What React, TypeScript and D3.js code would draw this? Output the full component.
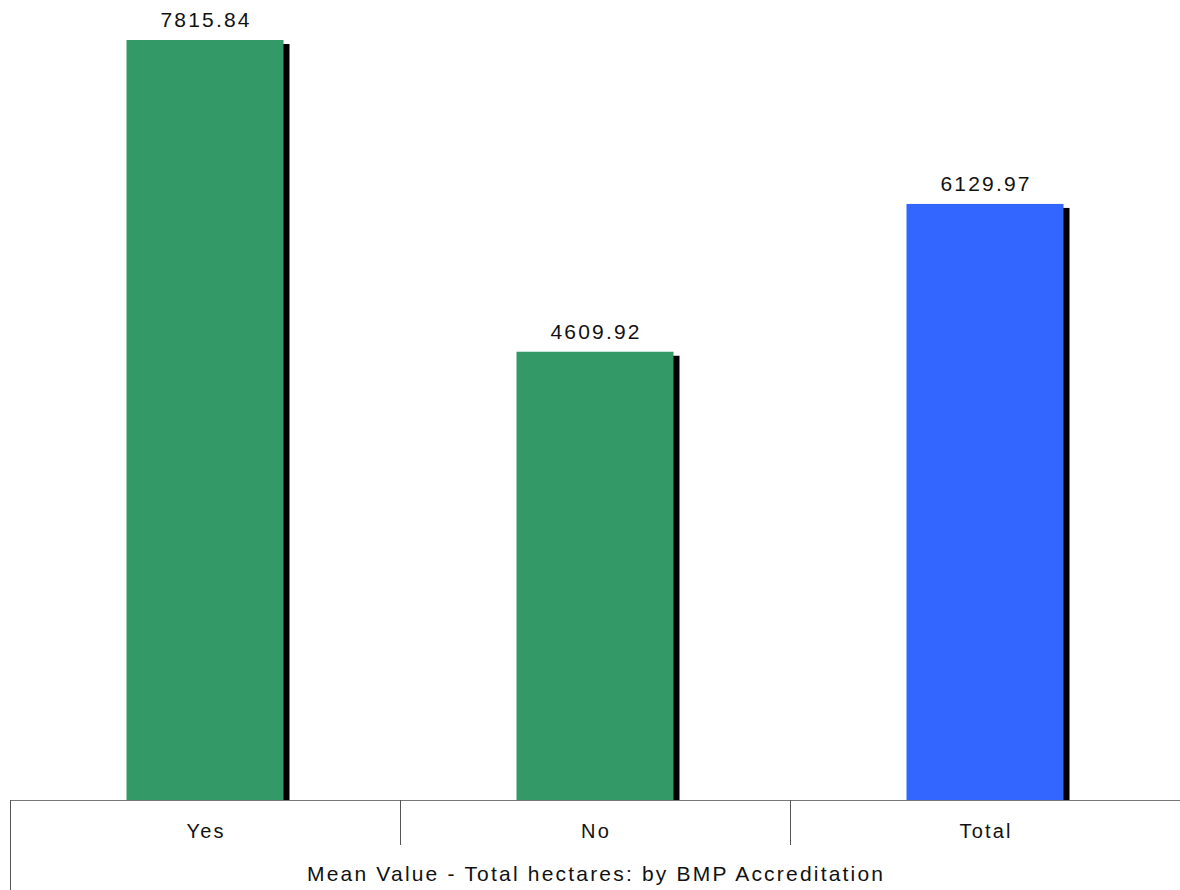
import React from "react";
import * as d3 from "d3";

const categories = ["Yes", "No", "Total"];
const values = [7815.84, 4609.92, 6129.97];
const barColors = ["#339966", "#339966", "#3366FF"];
const title = "Mean Value - Total hectares: by BMP Accreditation";

const W = 1180;
const H = 890;
const left = 10;
const right = 1180;
const baseY = 800;
const topY = 40;

export default function App() {
  const x = d3.scaleBand<string>().domain(categories).range([left, right]).padding(0);
  const y = d3.scaleLinear().domain([0, d3.max(values) as number]).range([baseY, topY]);
  const barW = 157;
  const font = "'Liberation Sans', Arial, sans-serif";
  const fs = 21;
  const ls = 2.2;
  return (
    <svg width={W} height={H} style={{ position: "absolute", left: 0, top: 0 }}>
      <rect width={W} height={H} fill="#fff" />
      {categories.map((c, i) => {
        const cx = (x(c) as number) + x.bandwidth() / 2;
        const bx = cx - barW / 2;
        const by = y(values[i]);
        return (
          <g key={c}>
            <rect x={bx + 6} y={by + 4} width={barW} height={baseY - by - 4} fill="#000" />
            <rect x={bx} y={by} width={barW} height={baseY - by} fill={barColors[i]} />
            <text
              x={cx + ls / 2}
              y={by - 13}
              textAnchor="middle"
              fontFamily={font}
              fontSize={fs}
              letterSpacing={ls}
              fill="#111"
            >
              {values[i].toFixed(2)}
            </text>
            <text
              x={cx + ls / 2}
              y={838}
              textAnchor="middle"
              fontFamily={font}
              fontSize={20}
              letterSpacing={ls}
              fill="#111"
            >
              {c}
            </text>
          </g>
        );
      })}
      <line x1={left} x2={right} y1={baseY + 0.5} y2={baseY + 0.5} stroke="#777" strokeWidth={1} />
      <line x1={left + 0.5} x2={left + 0.5} y1={baseY} y2={H} stroke="#555" strokeWidth={1} />
      {categories.slice(1).map((c) => (
        <line
          key={"d" + c}
          x1={Math.round(x(c) as number) + 0.5}
          x2={Math.round(x(c) as number) + 0.5}
          y1={baseY}
          y2={845}
          stroke="#555"
          strokeWidth={1}
        />
      ))}
      <text
        x={(left + right) / 2 + ls / 2}
        y={881}
        textAnchor="middle"
        fontFamily={font}
        fontSize={fs}
        letterSpacing={ls}
        fill="#111"
      >
        {title}
      </text>
    </svg>
  );
}
